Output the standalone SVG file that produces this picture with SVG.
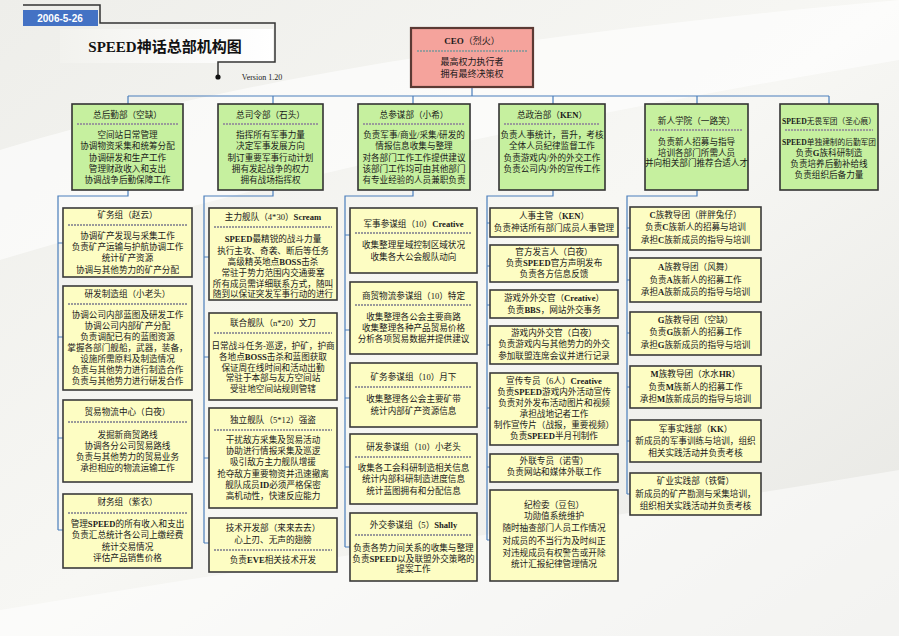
<svg xmlns="http://www.w3.org/2000/svg" width="899" height="636" viewBox="0 0 899 636">
<defs>
<linearGradient id="bg" x1="0" y1="0" x2="1" y2="1">
<stop offset="0" stop-color="#eeeeea"/>
<stop offset="0.5" stop-color="#f7f7f4"/>
<stop offset="1" stop-color="#e6e6e2"/>
</linearGradient>
<linearGradient id="panel" x1="0" y1="0" x2="1" y2="0">
<stop offset="0" stop-color="#f2f2ee"/>
<stop offset="1" stop-color="#ffffff"/>
</linearGradient>
<style>
.bus{stroke:#4a7ebb;fill:none;stroke-width:1.2}
.top{fill:#c6f09f;stroke:#333;stroke-width:1.6}
.sub{fill:#fdfdc3;stroke:#3a3a3a;stroke-width:1.6}
.ceo{fill:#f5a39c;stroke:#5b3a34;stroke-width:2.2}
.sep{stroke:#9a9a9a;stroke-width:2;stroke-dasharray:2 1}
text{font-family:"Liberation Serif","Noto Sans CJK SC",serif;font-size:8.6px;text-anchor:middle;fill:#1a1a1a}
.b{font-weight:bold}
.sm{font-size:7.7px}
</style>
</defs>
<rect width="899" height="636" fill="url(#bg)"/>
<path d="M0,150 C200,90 450,40 899,0 L899,60 C600,110 300,170 0,260 Z" fill="#ffffff" opacity="0.6"/>
<path d="M0,610 C300,560 600,520 899,470 L899,636 L0,636 Z" fill="#ffffff" opacity="0.5"/>

<g id="header">
<rect x="60" y="29" width="213" height="34" fill="url(#panel)"/>
<polyline points="23,5 100,5 100,23 275,23 275,62 218,62 218,77" fill="none" stroke="#333" stroke-width="1.5"/>
<circle cx="218" cy="77" r="2.6" fill="#111"/>
<rect x="23" y="10" width="75" height="16" fill="#4472c4"/>
<text x="60" y="22" style="font-family:'Liberation Sans',sans-serif;font-size:10px;font-weight:bold;fill:#fff">2006-5-26</text>
<text x="165" y="52" style="font-size:15px;font-weight:bold;fill:#111">SPEED神话总部机构图</text>
<text x="262" y="80" style="font-size:8px">Version 1.20</text>
</g>

<g id="connectors">
<path class="bus" d="M472,87V96M128,96H829M128,96V104M273,96V104M413,96V104M553,96V104M697,96V104M829,96V104"/>
<path class="bus" d="M128,190V196H58V530M58,243H63M58,337H63M58,438H63M58,530H63"/>
<path class="bus" d="M273,190V196H204V543M204,257H209M204,357H209M204,458H209M204,543H209"/>
<path class="bus" d="M413,190V196H345V547M345,235H350M345,330H350M345,398H350M345,467H350M345,547H350"/>
<path class="bus" d="M553,190V196H487V540M487,223H490M487,266H490M487,305H490M487,345H490M487,408H490M487,467H490M487,540H490"/>
<path class="bus" d="M697,190V196H627V494M627,228H630M627,280H630M627,333H630M627,387H630M627,441H630M627,494H630"/>
</g>

<g id="ceo">
<rect class="ceo" x="411" y="28" width="122" height="59"/>
<text x="472" y="44" style="font-size:9px"><tspan class="b">CEO</tspan>（烈火）</text>
<line class="sep" x1="417" y1="51" x2="527" y2="51"/>
<text x="472" y="65" style="font-size:9px">最高权力执行者</text>
<text x="472" y="77" style="font-size:9px">拥有最终决策权</text>
</g>

<g id="dept1">
<rect class="top" x="72" y="104" width="111" height="86"/>
<text x="127.5" y="118">总后勤部（空缺）</text>
<line class="sep" x1="77" y1="124" x2="178" y2="124"/>
<text x="127.5" y="138">空间站日常管理</text>
<text x="127.5" y="149">协调物资采集和统筹分配</text>
<text x="127.5" y="160.5">协调研发和生产工作</text>
<text x="127.5" y="172">管理财政收入和支出</text>
<text x="127.5" y="183">协调战争后勤保障工作</text>
</g>
<g id="dept2">
<rect class="top" x="218" y="104" width="105" height="86"/>
<text x="270.5" y="118">总司令部（石头）</text>
<line class="sep" x1="223" y1="124" x2="318" y2="124"/>
<text x="270.5" y="138">指挥所有军事力量</text>
<text x="270.5" y="149">决定军事发展方向</text>
<text x="270.5" y="160.5">制订重要军事行动计划</text>
<text x="270.5" y="172">拥有发起战争的权力</text>
<text x="270.5" y="183">拥有战场指挥权</text>
</g>
<g id="dept3">
<rect class="top" x="358" y="104" width="112" height="86"/>
<text x="414" y="118">总参谋部（小希）</text>
<line class="sep" x1="363" y1="124" x2="465" y2="124"/>
<text x="414" y="138">负责军事/商业/采集/研发的</text>
<text x="414" y="149">情报信息收集与整理</text>
<text x="414" y="160.5">对各部门工作工作提供建议</text>
<text x="414" y="172">该部门工作均可由其他部门</text>
<text x="414" y="183">有专业经验的人员兼职负责</text>
</g>
<g id="dept4">
<rect class="top" x="499" y="104" width="106" height="86"/>
<text x="552" y="118">总政治部（<tspan class="b">KEN</tspan>）</text>
<line class="sep" x1="504" y1="124" x2="600" y2="124"/>
<text x="552" y="138">负责人事统计，晋升，考核</text>
<text x="552" y="149">全体人员纪律监督工作</text>
<text x="552" y="160.5">负责游戏内/外的外交工作</text>
<text x="552" y="172">负责公司内/外的宣传工作</text>
</g>
<g id="dept5">
<rect class="top" x="645" y="104" width="103" height="86"/>
<text x="696.5" y="124">新人学院（一路笑）</text>
<line class="sep" x1="650" y1="130" x2="743" y2="130"/>
<text x="696.5" y="145">负责新人招募与指导</text>
<text x="696.5" y="155.5">培训各部门所需人员</text>
<text x="696.5" y="166">并向相关部门推荐合适人才</text>
</g>
<g id="dept6">
<rect class="top" x="780" y="104" width="98" height="86"/>
<text class="sm" x="829" y="124"><tspan class="b">SPEED</tspan>无畏军团（圣心痕）</text>
<line class="sep" x1="785" y1="130" x2="873" y2="130"/>
<text class="sm" x="829" y="145"><tspan class="b">SPEED</tspan>单独建制的后勤军团</text>
<text x="829" y="156">负责<tspan class="b">G</tspan>族科研制造</text>
<text x="829" y="167">负责培养后勤补给线</text>
<text x="829" y="178">负责组织后备力量</text>
</g>

<g id="c1-mining">
<rect class="sub" x="63" y="208" width="129" height="69"/>
<text x="127.5" y="218">矿务组（赵云）</text>
<line class="sep" x1="68" y1="225" x2="187" y2="225"/>
<text x="127.5" y="239">协调矿产发现与采集工作</text>
<text x="127.5" y="250">负责矿产运输与护航协调工作</text>
<text x="127.5" y="261">统计矿产资源</text>
<text x="127.5" y="273">协调与其他势力的矿产分配</text>
</g>
<g id="c1-rd">
<rect class="sub" x="63" y="286" width="129" height="104"/>
<text x="127.5" y="297">研发制造组（小老头）</text>
<line class="sep" x1="68" y1="304" x2="187" y2="304"/>
<text x="127.5" y="318">协调公司内部蓝图及研发工作</text>
<text x="127.5" y="329">协调公司内部矿产分配</text>
<text x="127.5" y="340">负责调配已有的蓝图资源</text>
<text x="127.5" y="351">掌握各部门舰船，武器，装备，</text>
<text x="127.5" y="362">设施所需原料及制造情况</text>
<text x="127.5" y="373">负责与其他势力进行制造合作</text>
<text x="127.5" y="384">负责与其他势力进行研发合作</text>
</g>
<g id="c1-trade">
<rect class="sub" x="63" y="400" width="129" height="82"/>
<text x="127.5" y="415">贸易物流中心（白夜）</text>
<line class="sep" x1="68" y1="422" x2="187" y2="422"/>
<text x="127.5" y="438">发掘新商贸路线</text>
<text x="127.5" y="448.5">协调各分公司贸易路线</text>
<text x="127.5" y="460">负责与其他势力的贸易业务</text>
<text x="127.5" y="471">承担相应的物流运输工作</text>
</g>
<g id="c1-finance">
<rect class="sub" x="63" y="494" width="129" height="74"/>
<text x="127.5" y="505">财务组（紫衣）</text>
<line class="sep" x1="68" y1="513" x2="187" y2="513"/>
<text x="127.5" y="527">管理<tspan class="b">SPEED</tspan>的所有收入和支出</text>
<text x="127.5" y="538">负责汇总统计各公司上缴经费</text>
<text x="127.5" y="550">统计交易情况</text>
<text x="127.5" y="561">评估产品销售价格</text>
</g>

<g id="c2-main">
<rect class="sub" x="209" y="208" width="128" height="92"/>
<text x="273" y="220">主力舰队（4*30）<tspan class="b">Scream</tspan></text>
<line class="sep" x1="214" y1="227" x2="332" y2="227"/>
<text x="273" y="242"><tspan class="b">SPEED</tspan>最精锐的战斗力量</text>
<text x="273" y="254">执行主攻、奇袭、断后等任务</text>
<text x="273" y="265">高级精英地点<tspan class="b">BOSS</tspan>击杀</text>
<text x="273" y="276">常驻于势力范围内交通要塞</text>
<text x="273" y="286.5">所有成员需详细联系方式，随叫</text>
<text x="273" y="297">随到以保证突发军事行动的进行</text>
</g>
<g id="c2-joint">
<rect class="sub" x="209" y="313" width="128" height="87"/>
<text x="273" y="326">联合舰队（n*20）文刀</text>
<line class="sep" x1="214" y1="333" x2="332" y2="333"/>
<text x="273" y="349">日常战斗任务-巡逻，护矿，护商</text>
<text x="273" y="360">各地点<tspan class="b">BOSS</tspan>击杀和蓝图获取</text>
<text x="273" y="370.5">保证周在线时间和活动出勤</text>
<text x="273" y="381">常驻于本部与友方空间站</text>
<text x="273" y="392">受驻地空间站规则管辖</text>
</g>
<g id="c2-indep">
<rect class="sub" x="209" y="408" width="128" height="100"/>
<text x="273" y="423">独立舰队（5*12）强盗</text>
<line class="sep" x1="214" y1="430" x2="332" y2="430"/>
<text x="273" y="443">干扰敌方采集及贸易活动</text>
<text x="273" y="454">协助进行情报采集及巡逻</text>
<text x="273" y="465">吸引敌方主力舰队增援</text>
<text x="273" y="477">抢夺敌方重要物资并迅速撤离</text>
<text x="273" y="488">舰队成员<tspan class="b">ID</tspan>必须严格保密</text>
<text x="273" y="499">高机动性，快速反应能力</text>
</g>
<g id="c2-tech">
<rect class="sub" x="209" y="518" width="128" height="54"/>
<text x="273" y="531">技术开发部（来来去去）</text>
<text x="273" y="543">心上刃、无声的翅膀</text>
<line class="sep" x1="214" y1="550" x2="332" y2="550"/>
<text x="273" y="563">负责<tspan class="b">EVE</tspan>相关技术开发</text>
</g>

<g id="c3-mil">
<rect class="sub" x="350" y="208" width="127" height="65"/>
<text x="413.5" y="227">军事参谋组（10）<tspan class="b">Creative</tspan></text>
<line class="sep" x1="355" y1="233" x2="472" y2="233"/>
<text x="413.5" y="248">收集整理星域控制区域状况</text>
<text x="413.5" y="260">收集各大公会舰队动向</text>
</g>
<g id="c3-trade">
<rect class="sub" x="350" y="282" width="127" height="72"/>
<text x="413.5" y="299">商贸物流参谋组（10）特定</text>
<line class="sep" x1="355" y1="305" x2="472" y2="305"/>
<text x="413.5" y="320">收集整理各公会主要商路</text>
<text x="413.5" y="331">收集整理各种产品贸易价格</text>
<text x="413.5" y="341.5">分析各项贸易数据并提供建议</text>
</g>
<g id="c3-mining">
<rect class="sub" x="350" y="363" width="127" height="64"/>
<text x="413.5" y="380">矿务参谋组（10）月下</text>
<line class="sep" x1="355" y1="387" x2="472" y2="387"/>
<text x="413.5" y="402">收集整理各公会主要矿带</text>
<text x="413.5" y="414">统计内部矿产资源信息</text>
</g>
<g id="c3-rd">
<rect class="sub" x="350" y="434" width="127" height="70"/>
<text x="413.5" y="450">研发参谋组（10）小老头</text>
<line class="sep" x1="355" y1="457" x2="472" y2="457"/>
<text x="413.5" y="471">收集各工会科研制造相关信息</text>
<text x="413.5" y="482">统计内部科研制造进度信息</text>
<text x="413.5" y="494">统计蓝图拥有和分配信息</text>
</g>
<g id="c3-dipl">
<rect class="sub" x="350" y="513" width="127" height="68"/>
<text x="413.5" y="528">外交参谋组（5）<tspan class="b">Shally</tspan></text>
<line class="sep" x1="355" y1="535" x2="472" y2="535"/>
<text x="413.5" y="551">负责各势力间关系的收集与整理</text>
<text x="413.5" y="561.5">负责<tspan class="b">SPEED</tspan>以及联盟外交策略的</text>
<text x="413.5" y="572">提案工作</text>
</g>

<g id="c4-hr">
<rect class="sub" x="490" y="208" width="128" height="29"/>
<text x="554" y="219">人事主管（<tspan class="b">KEN</tspan>）</text>
<text x="554" y="231">负责神话所有部门成员人事管理</text>
</g>
<g id="c4-spokes">
<rect class="sub" x="490" y="245" width="128" height="37"/>
<text x="554" y="255">官方发言人（白夜）</text>
<text x="554" y="266">负责<tspan class="b">SPEED</tspan>官方声明发布</text>
<text x="554" y="277">负责各方信息反馈</text>
</g>
<g id="c4-outdip">
<rect class="sub" x="490" y="290" width="128" height="28"/>
<text x="554" y="301">游戏外外交官（<tspan class="b">Creative</tspan>）</text>
<text x="554" y="313">负责<tspan class="b">BBS</tspan>，网站外交事务</text>
</g>
<g id="c4-indip">
<rect class="sub" x="490" y="326" width="128" height="38"/>
<text x="554" y="336">游戏内外交官（白夜）</text>
<text x="554" y="347">负责游戏内与其他势力的外交</text>
<text x="554" y="359">参加联盟连席会议并进行记录</text>
</g>
<g id="c4-pr">
<rect class="sub" x="490" y="373" width="128" height="72"/>
<text x="554" y="384">宣传专员（6人）<tspan class="b">Creative</tspan></text>
<text x="554" y="395">负责<tspan class="b">SPEED</tspan>游戏内外活动宣传</text>
<text x="554" y="406">负责对外发布活动图片和视频</text>
<text x="554" y="417">承担战地记者工作</text>
<text x="554" y="428">制作宣传片（战报，重要视频）</text>
<text x="554" y="439">负责<tspan class="b">SPEED</tspan>半月刊制作</text>
</g>
<g id="c4-media">
<rect class="sub" x="490" y="454" width="128" height="28"/>
<text x="554" y="464">外联专员（诺雪）</text>
<text x="554" y="475">负责网站和媒体外联工作</text>
</g>
<g id="c4-disc">
<rect class="sub" x="490" y="490" width="128" height="91"/>
<text x="554" y="508">纪检委（豆包）</text>
<text x="554" y="519">功勋值系统维护</text>
<text x="554" y="531">随时抽查部门人员工作情况</text>
<text x="554" y="544">对成员的不当行为及时纠正</text>
<text x="554" y="556">对违规成员有权警告或开除</text>
<text x="554" y="566.5">统计汇报纪律管理情况</text>
</g>

<g id="c5-c">
<rect class="sub" x="630" y="207" width="131" height="43"/>
<text x="695.5" y="218"><tspan class="b">C</tspan>族教导团（胖胖兔仔）</text>
<text x="695.5" y="230">负责<tspan class="b">C</tspan>族新人的招募与培训</text>
<text x="695.5" y="243">承担<tspan class="b">C</tspan>族新成员的指导与培训</text>
</g>
<g id="c5-a">
<rect class="sub" x="630" y="258" width="131" height="44"/>
<text x="695.5" y="270"><tspan class="b">A</tspan>族教导团（风舞）</text>
<text x="695.5" y="283">负责<tspan class="b">A</tspan>族新人的招募工作</text>
<text x="695.5" y="295">承担<tspan class="b">A</tspan>族新成员的指导与培训</text>
</g>
<g id="c5-g">
<rect class="sub" x="630" y="312" width="131" height="43"/>
<text x="695.5" y="323"><tspan class="b">G</tspan>族教导团（空缺）</text>
<text x="695.5" y="335">负责<tspan class="b">G</tspan>族新人的招募工作</text>
<text x="695.5" y="348">承担<tspan class="b">G</tspan>族新成员的指导与培训</text>
</g>
<g id="c5-m">
<rect class="sub" x="630" y="366" width="131" height="42"/>
<text x="695.5" y="377"><tspan class="b">M</tspan>族教导团（水水<tspan class="b">HR</tspan>）</text>
<text x="695.5" y="390">负责<tspan class="b">M</tspan>族新人的招募工作</text>
<text x="695.5" y="402">承担<tspan class="b">M</tspan>族新成员的指导与培训</text>
</g>
<g id="c5-mil">
<rect class="sub" x="630" y="420" width="131" height="42"/>
<text x="695.5" y="432">军事实践部（<tspan class="b">KK</tspan>）</text>
<text x="695.5" y="444">新成员的军事训练与培训，组织</text>
<text x="695.5" y="456">相关实践活动并负责考核</text>
</g>
<g id="c5-mine">
<rect class="sub" x="630" y="473" width="131" height="42"/>
<text x="695.5" y="484">矿业实践部（铁臂）</text>
<text x="695.5" y="497">新成员的矿产勘测与采集培训，</text>
<text x="695.5" y="509">组织相关实践活动并负责考核</text>
</g>
</svg>
